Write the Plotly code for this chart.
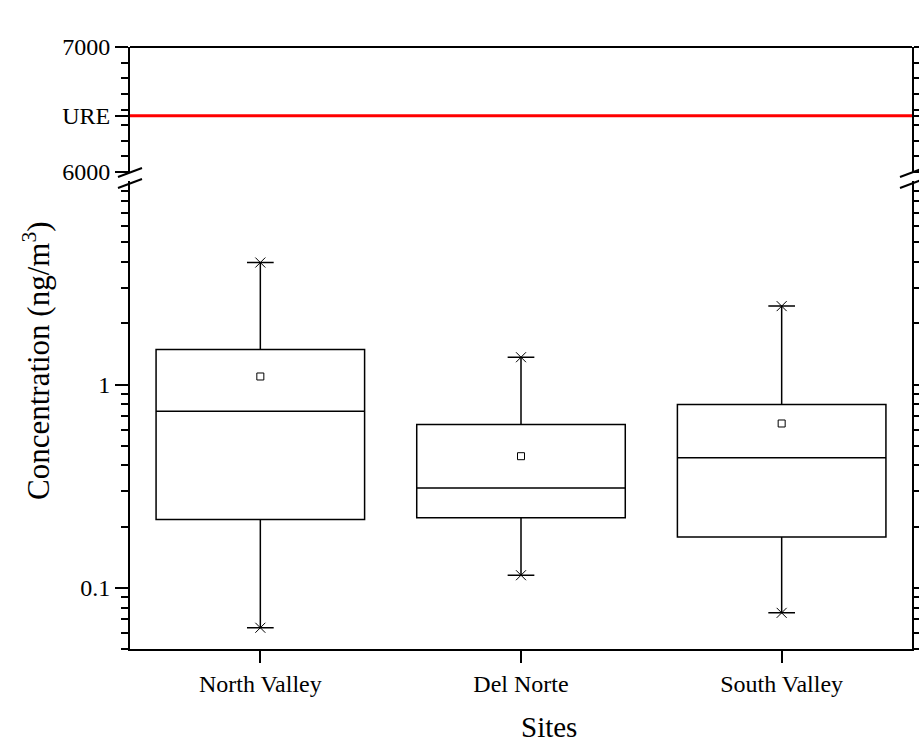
import plotly.graph_objects as go

# ---- data ----
sites = ["North Valley", "Del Norte", "South Valley"]
lower_whisker = [0.0636, 0.1153, 0.0753]
q1 = [0.217, 0.221, 0.178]
median = [0.739, 0.310, 0.436]
q3 = [1.486, 0.636, 0.797]
upper_whisker = [3.98, 1.362, 2.43]
mean = [1.095, 0.444, 0.643]
ure_value = 6450
top_ticks = [6000, ure_value, 7000]
top_ticktext = ["6000", "URE", "7000"]
bottom_ticks = [0.1, 1]
bottom_ticktext = ["0.1", "1"]

FONT = "Liberation Serif"
W, H = 919, 744
ML, MR, MT, MB = 130, 7, 47, 95
PW, PH = W - ML - MR, H - MT - MB


def px(x):
    return (x - ML) / PW


def py(y):
    return (H - MB - y) / PH


fig = go.Figure()

fig.add_trace(go.Box(
    x=sites, q1=q1, median=median, q3=q3,
    lowerfence=lower_whisker, upperfence=upper_whisker,
    width=0.8, whiskerwidth=0.128, boxpoints=False,
    line=dict(color="black", width=1.5), fillcolor="rgba(0,0,0,0)",
    xaxis="x", yaxis="y", showlegend=False, hoverinfo="skip",
))

fig.add_trace(go.Scatter(
    x=sites, y=mean, mode="markers",
    marker=dict(symbol="square-open", size=7, color="black", line=dict(width=1)),
    xaxis="x", yaxis="y", showlegend=False,
))

fig.add_trace(go.Scatter(
    x=sites + sites, y=lower_whisker + upper_whisker, mode="markers",
    marker=dict(symbol="x-thin-open", size=10, color="black", line=dict(width=1, color="black")),
    xaxis="x", yaxis="y", showlegend=False,
))

# invisible trace so the top panel axes are drawn
fig.add_trace(go.Scatter(
    x=[sites[0]], y=[ure_value], mode="markers", marker=dict(opacity=0),
    xaxis="x2", yaxis="y2", showlegend=False, hoverinfo="skip",
))

log_min = -1.30103
bottom_top = 1.0
minor_bottom = [m * 10 ** e for e in (-2, -1, 0) for m in range(2, 10) if 0.05 <= m * 10 ** e <= 10]
minor_top = [6000 + 125 * i for i in range(9)]

bottom_h = (bottom_top - log_min) * 203.3 / PH

axis_common = dict(
    showline=True, linecolor="black", linewidth=2,
    ticks="outside", tickcolor="black", tickwidth=2,
    tickfont=dict(family=FONT, size=24, color="black"),
    showgrid=False, zeroline=False, automargin=False,
)

fig.update_layout(
    width=W, height=H,
    margin=dict(l=ML, r=MR, t=MT, b=MB, autoexpand=False),
    paper_bgcolor="white", plot_bgcolor="white",
    xaxis=dict(
        **axis_common, type="category", range=[-0.5, 2.5], ticklen=12,
        anchor="y", domain=[0, 1],
    ),
    xaxis2=dict(
        type="category", range=[-0.5, 2.5], anchor="y2", matches="x",
        showline=False, showticklabels=False, ticks="", showgrid=False, zeroline=False,
        domain=[0, 1], automargin=False,
    ),
    yaxis=dict(
        **axis_common, type="log", range=[log_min, bottom_top], domain=[0, bottom_h],
        anchor="x", mirror="ticks", ticklen=13,
        tickmode="array", tickvals=bottom_ticks, ticktext=bottom_ticktext,
        minor=dict(tickmode="array", tickvals=minor_bottom, ticks="outside",
                   ticklen=7, tickwidth=2, tickcolor="black"),
    ),
    yaxis2=dict(
        **axis_common, type="linear", range=[6000, 7000], domain=[py(172), 1],
        anchor="x2", mirror="ticks", ticklen=13,
        tickmode="array", tickvals=top_ticks, ticktext=top_ticktext,
        minor=dict(tickmode="array", tickvals=minor_top, ticks="outside",
                   ticklen=7, tickwidth=2, tickcolor="black"),
    ),
)

shapes = [
    # top frame line
    dict(type="line", xref="paper", yref="paper", x0=0, x1=1, y0=1, y1=1,
         line=dict(color="black", width=2)),
    # URE line
    dict(type="line", xref="paper", yref="y2", x0=0, x1=1, y0=ure_value, y1=ure_value,
         line=dict(color="#ff0000", width=3)),
]
for cx in (130, 912):
    for dy in (0, 11):
        shapes.append(dict(type="line", xref="paper", yref="paper",
                           x0=px(cx - 12), y0=py(177 + dy), x1=px(cx + 12), y1=py(168 + dy),
                           line=dict(color="black", width=2)))
fig.update_layout(shapes=shapes)

fig.add_annotation(
    text="Concentration (ng/m<sup>3</sup>)", textangle=-90,
    xref="paper", yref="paper", x=px(36), y=py(361),
    xanchor="center", yanchor="middle", showarrow=False,
    font=dict(family=FONT, size=31, color="black"),
)
fig.add_annotation(
    text="Sites",
    xref="paper", yref="paper", x=px(549), y=py(727),
    xanchor="center", yanchor="middle", showarrow=False,
    font=dict(family=FONT, size=29, color="black"),
)

fig.write_html("out.html")
